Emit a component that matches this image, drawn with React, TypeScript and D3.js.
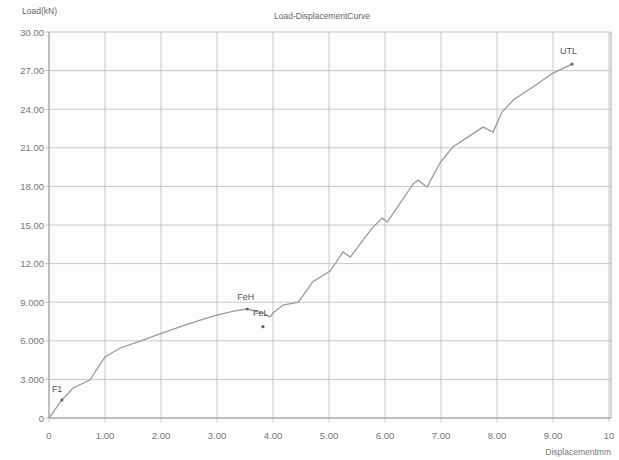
import React from "react";
import * as d3 from "d3";

const dispX = [0, 0.23, 0.43, 0.73, 1.0, 1.27, 1.63, 1.98, 2.35, 2.7, 3.0, 3.3, 3.54, 3.82, 3.95, 4.0, 4.18, 4.45, 4.61, 4.71, 5.02, 5.25, 5.38, 5.77, 5.95, 6.04, 6.5, 6.59, 6.75, 6.98, 7.21, 7.75, 7.93, 8.09, 8.29, 8.64, 9.0, 9.34];
const loadY = [0, 1.4, 2.33, 2.95, 4.74, 5.44, 5.98, 6.53, 7.1, 7.61, 8.0, 8.3, 8.47, 8.16, 7.85, 8.16, 8.78, 9.01, 9.95, 10.6, 11.42, 12.9, 12.51, 14.76, 15.54, 15.23, 18.18, 18.49, 17.95, 19.81, 21.06, 22.61, 22.22, 23.78, 24.71, 25.72, 26.81, 27.51];

const markerNames = ["F1", "FeH", "FeL", "UTL"];
const markerX = [0.23, 3.54, 3.82, 9.34];
const markerY = [1.4, 8.47, 7.1, 27.51];

const xTicks = [0, 1, 2, 3, 4, 5, 6, 7, 8, 9, 10];
const xTickLabels = ["0", "1.00", "2.00", "3.00", "4.00", "5.00", "6.00", "7.00", "8.00", "9.00", "10"];
const yTicks = [0, 3, 6, 9, 12, 15, 18, 21, 24, 27, 30];
const yTickLabels = ["0", "3.000", "6.000", "9.000", "12.00", "15.00", "18.00", "21.00", "24.00", "27.00", "30.00"];

export default function App() {
  const W = 619, H = 460;
  const left = 49, right = 609, top = 32, bottom = 418;
  const x = d3.scaleLinear().domain([0, 10]).range([left, right]);
  const y = d3.scaleLinear().domain([0, 30]).range([bottom, top]);
  const pts = dispX.map((d, i) => [d, loadY[i]] as [number, number]);
  const line = d3.line<[number, number]>().x(d => x(d[0])).y(d => y(d[1]));
  const font = "Liberation Sans, Arial, sans-serif";
  const labelOffsets: [number, number, string][] = [
    [-10, -8, "start"],
    [-10, -9, "start"],
    [-10, -11, "start"],
    [-12, -10, "start"],
  ];
  return (
    <svg width={W} height={H} style={{ position: "absolute", left: 0, top: 0, background: "#fff" }} fontFamily={font}>
      <rect x={0} y={0} width={W} height={H} fill="#fdfdfd" />
      {yTicks.map((t, i) => (
        <g key={"y" + i}>
          <line x1={left - 4} x2={right + 2} y1={y(t)} y2={y(t)} stroke="#c8c8c8" strokeWidth={1} />
          <text x={left - 5} y={y(t) + 3.5} fontSize={9.5} fill="#777" textAnchor="end">{yTickLabels[i]}</text>
        </g>
      ))}
      {xTicks.map((t, i) => (
        <g key={"x" + i}>
          <line x1={x(t)} x2={x(t)} y1={top} y2={bottom + 4} stroke="#c8c8c8" strokeWidth={1} />
          <text x={x(t)} y={bottom + 21} fontSize={9.5} fill="#777" textAnchor="middle">{xTickLabels[i]}</text>
        </g>
      ))}
      <line x1={left} x2={left} y1={top} y2={bottom} stroke="#999" strokeWidth={1} />
      <line x1={left} x2={right + 2} y1={bottom} y2={bottom} stroke="#999" strokeWidth={1} />
      <line x1={right + 2} x2={right + 2} y1={top} y2={bottom} stroke="#aaa" strokeWidth={1} />
      <path d={line(pts) || ""} fill="none" stroke="#9a9a9a" strokeWidth={1.3} />
      {markerNames.map((n, i) => (
        <g key={n}>
          <circle cx={x(markerX[i])} cy={y(markerY[i])} r={1.6} fill="#666" />
          <text x={x(markerX[i]) + labelOffsets[i][0]} y={y(markerY[i]) + labelOffsets[i][1]} fontSize={9} fill="#555" textAnchor={labelOffsets[i][2] as any}>{n}</text>
        </g>
      ))}
      <text x={22} y={14} fontSize={8.5} fill="#666">Load(kN)</text>
      <text x={322} y={19} fontSize={8.5} fill="#666" textAnchor="middle">Load-DisplacementCurve</text>
      <text x={611} y={455} fontSize={8.5} fill="#777" textAnchor="end">Displacementmm</text>
    </svg>
  );
}
